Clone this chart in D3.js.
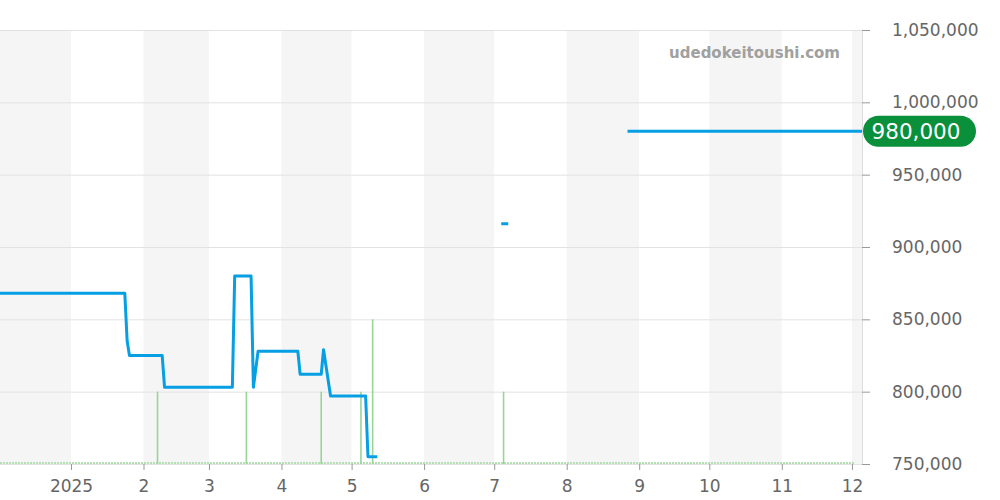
<!DOCTYPE html>
<html><head><meta charset="utf-8">
<script src="https://cdn.jsdelivr.net/npm/d3@7"></script>
<style>
html,body{margin:0;padding:0;background:#fff;}
svg{display:block;font-family:"DejaVu Sans",sans-serif;}
</style></head>
<body><svg id="c" width="1000" height="500"></svg>
<script>
// ---- data ----
const priceDates = ["2024-12-01","2025-01-24","2025-01-25","2025-01-26","2025-02-09","2025-02-10",
  "2025-03-11","2025-03-12","2025-03-19","2025-03-20","2025-03-22","2025-04-08","2025-04-09",
  "2025-04-18","2025-04-19","2025-04-22","2025-05-07","2025-05-08","2025-05-12","2025-05-13",
  "2025-07-04","2025-07-07","2025-07-08","2025-08-27","2025-12-06"];
const priceValues = [868000,868000,835000,825000,825000,803000,
  803000,880000,880000,803000,828000,828000,812000,
  812000,829000,797000,797000,755000,755000,null,
  916000,916000,null,980000,980000];
const volumeDates = ["2025-02-07","2025-03-17","2025-04-18","2025-05-05","2025-05-10","2025-07-05"];
const volumeCounts = [1,1,1,1,2,1];
const yTicks = [750000,800000,850000,900000,950000,1000000,1050000];
const lastPriceLabel = 980000;
const watermark = "udedokeitoushi.com";

// ---- layout ----
const pL = 0, pR = 862, pT = 30, pB = 464;
const parse = d3.timeParse("%Y-%m-%d");
const svg = d3.select("#c");

const x = d3.scaleTime()
  .domain([new Date(2024,11,1,15), new Date(2025,11,5,7)])
  .range([pL, pR]);
const y = d3.scaleLinear().domain([750000,1050000]).range([pB, pT]);
const yVol = d3.scaleLinear().domain([0,6]).range([pB, pT]);

svg.append("defs").append("clipPath").attr("id","clip")
  .append("rect").attr("x",pL).attr("y",pT-5).attr("width",pR-pL).attr("height",pB-pT+10);

// month bands
const [d0,d1] = x.domain();
const months = d3.timeMonth.range(d3.timeMonth.floor(d0), d1);
svg.append("g").selectAll("rect").data(months).join("rect")
  .attr("x", d => Math.max(pL, x(d)))
  .attr("width", d => Math.min(pR, x(d3.timeMonth.offset(d,1))) - Math.max(pL, x(d)))
  .attr("y", pT).attr("height", pB-pT)
  .attr("fill", (d,i) => i%2===0 ? "#f5f5f5" : "#ffffff");

// grid
svg.append("g").selectAll("line").data(yTicks).join("line")
  .attr("x1",pL).attr("x2",pR).attr("y1",d=>y(d)+0.5).attr("y2",d=>y(d)+0.5)
  .attr("stroke","#e2e2e2").attr("stroke-width",1);

// watermark
svg.append("text").attr("x",840).attr("y",58).attr("text-anchor","end")
  .attr("font-size",15).attr("font-weight","bold").attr("fill","#a0a0a0").text(watermark);

// volume baseline dotted
svg.append("line").attr("x1",pL).attr("x2",855).attr("y1",pB-1).attr("y2",pB-1)
  .attr("stroke","#b4e0b4").attr("stroke-width",2).attr("stroke-dasharray","2,1");

// volume bars
const vol = volumeDates.map((d,i)=>({date:parse(d), v:volumeCounts[i]}));
svg.append("g").selectAll("line").data(vol).join("line")
  .attr("x1",d=>x(d.date)).attr("x2",d=>x(d.date))
  .attr("y1",yVol(0)).attr("y2",d=>yVol(d.v))
  .attr("stroke","#98d498").attr("stroke-width",1.6);

// price line
const pts = priceDates.map((d,i)=>({date:parse(d), v:priceValues[i]}));
const line = d3.line().defined(d=>d.v!==null).x(d=>x(d.date)).y(d=>y(d.v));
svg.append("path").attr("clip-path","url(#clip)").datum(pts).attr("d",line)
  .attr("fill","none").attr("stroke","#069fe3").attr("stroke-width",3)
  .attr("stroke-linejoin","round");

// bottom axis
const xAxis = d3.axisBottom(x).ticks(d3.timeMonth.every(1)).tickSize(6).tickPadding(10)
  .tickFormat(d => d.getMonth()===0 ? d.getFullYear() : (d.getMonth()+1));
const gx = svg.append("g").attr("transform",`translate(0,${pB})`).call(xAxis);
gx.select(".domain").remove();
gx.selectAll("line").attr("stroke","#999");
gx.selectAll("text").attr("font-size",17).attr("fill","#666").attr("font-family","DejaVu Sans");

// right axis
const yAxis = d3.axisRight(y).tickValues(yTicks).tickSize(8).tickPadding(22)
  .tickFormat(d3.format(","));
const gy = svg.append("g").attr("transform",`translate(${pR},0)`).call(yAxis);
gy.select(".domain").attr("stroke","#dddddd").attr("d",`M0.5,${pT}V${pB}`);
gy.selectAll("line").attr("stroke","#999");
gy.selectAll("text").attr("font-size",17).attr("fill","#666").attr("font-family","DejaVu Sans");

// last price badge
const by = y(lastPriceLabel);
svg.append("rect").attr("x",863).attr("y",by-15.5).attr("width",113).attr("height",31)
  .attr("rx",15.5).attr("fill","#0a8f3b");
svg.append("text").attr("x",916).attr("y",by).attr("dy","0.36em").attr("text-anchor","middle")
  .attr("font-size",21.5).attr("fill","#fff").text(d3.format(",")(lastPriceLabel));
</script></body></html>
